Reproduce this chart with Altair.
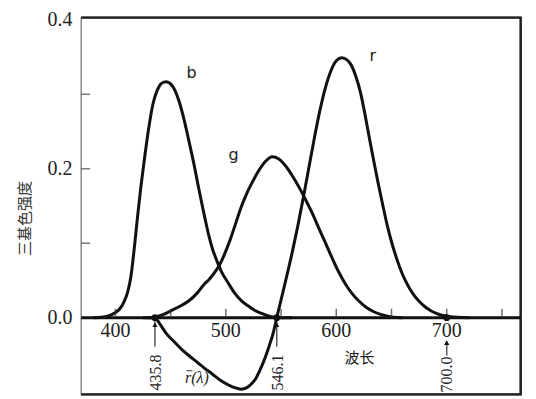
import altair as alt
import pandas as pd

# ---- data ----
lam_b = [380, 389, 395, 400, 404, 408, 411, 414, 417, 420, 423, 426, 430, 434, 438, 442, 446, 450, 454,
         458, 462, 466, 471, 475, 478, 481, 484, 488, 492, 496, 502, 508, 514, 520, 526, 532, 537, 542,
         547, 560]
val_b = [0.0, 0.001, 0.003, 0.007, 0.012, 0.022, 0.034, 0.055, 0.092, 0.135, 0.175, 0.210, 0.253, 0.287,
         0.306, 0.315, 0.317, 0.314, 0.305, 0.289, 0.267, 0.241, 0.207, 0.177, 0.155, 0.134, 0.114, 0.092,
         0.076, 0.062, 0.047, 0.033, 0.023, 0.016, 0.010, 0.006, 0.003, 0.001, 0.0, 0.0]

lam_g = [430, 436, 443, 450, 458, 466, 474, 481, 484, 489, 494, 499, 504, 509, 514, 519, 524, 530, 536,
         542, 548, 554, 560, 566, 572, 578, 584, 590, 596, 602, 608, 614, 620, 627, 634, 641, 650, 660]
val_g = [0.0, 0.001, 0.004, 0.009, 0.015, 0.022, 0.033, 0.046, 0.050, 0.059, 0.070, 0.086, 0.105, 0.127,
         0.149, 0.167, 0.182, 0.198, 0.210, 0.216, 0.213, 0.204, 0.191, 0.176, 0.159, 0.141, 0.121, 0.101,
         0.081, 0.062, 0.046, 0.033, 0.023, 0.014, 0.008, 0.004, 0.001, 0.0]

lam_r = [425, 435.8, 440, 446, 453, 461, 470, 480, 488, 495, 502, 508, 514, 519, 523, 527, 531, 535, 539,
         543, 546.1, 550, 555, 560, 565, 570, 575, 580, 585, 590, 595, 600, 605, 610, 614, 618, 622, 626,
         630, 634, 638, 642, 646, 650, 655, 660, 665, 670, 675, 680, 686, 692, 700, 710, 720]
val_r = [0.0, 0.0, -0.008, -0.021, -0.032, -0.044, -0.055, -0.067, -0.076, -0.084, -0.090, -0.094, -0.096,
         -0.094, -0.089, -0.082, -0.070, -0.056, -0.039, -0.020, 0.0, 0.024, 0.055, 0.087, 0.122, 0.160,
         0.200, 0.240, 0.277, 0.308, 0.331, 0.345, 0.349, 0.346, 0.338, 0.323, 0.302, 0.273, 0.241, 0.210,
         0.180, 0.152, 0.125, 0.102, 0.078, 0.058, 0.043, 0.031, 0.022, 0.015, 0.009, 0.005, 0.002, 0.0005, 0.0]

x_ticks = [400, 450, 500, 550, 600, 650, 700, 750]
x_labels = [400, 500, 600, 700]
y_ticks = [0.1, 0.2, 0.3]
y_labels = [0.0, 0.2, 0.4]

mark_lams = [435.8, 546.1, 700.0]
mark_texts = ["435.8", "546.1", "700.0"]

# box drawn around the plot, and the (slightly larger) scale domains
box_x = [369, 767]
box_y = [-0.103, 0.403]
x_domain = [366, 770]
y_domain = [-0.106, 0.406]

curves = pd.concat([
    pd.DataFrame({"lam": lam_b, "val": val_b, "series": "b"}),
    pd.DataFrame({"lam": lam_g, "val": val_g, "series": "g"}),
    pd.DataFrame({"lam": lam_r, "val": val_r, "series": "r"}),
])

frame_dark = pd.DataFrame({"lam": [box_x[0], box_x[1], box_x[1], box_x[0]],
                           "val": [box_y[1], box_y[1], box_y[0], box_y[0]],
                           "o": [0, 1, 2, 3]})
frame_left = pd.DataFrame({"lam": [box_x[0], box_x[0]], "val": [box_y[0], box_y[1]], "o": [0, 1]})

xscale = alt.Scale(domain=x_domain, nice=False, zero=False)
yscale = alt.Scale(domain=y_domain, nice=False, zero=False)
yax = alt.Axis(values=y_labels, format=".1f", ticks=False, domain=False, grid=False,
               labelFont="Liberation Serif", labelFontSize=20, labelColor="#222", labelPadding=6,
               title="三基色强度", titleFont="Noto Sans CJK SC", titleFontSize=15,
               titleFontWeight="normal", titleColor="#333", titleX=-53, titleY=203,
               titleAngle=270, titleAlign="center", titleBaseline="middle")


def X(f):
    return alt.X(f, scale=xscale, axis=None)


def Xd(v):
    return alt.X(datum=v, scale=xscale, axis=None)


def Y(f):
    return alt.Y(f, scale=yscale, axis=yax)


def Yd(v):
    return alt.Y(datum=v, scale=yscale, axis=yax)


one = pd.DataFrame({"k": [0]})
mid_x = (box_x[0] + box_x[1]) / 2
mid_y = (box_y[0] + box_y[1]) / 2

frame1 = alt.Chart(frame_dark).mark_line(color="#222", strokeWidth=2.4).encode(
    x=X("lam:Q"), y=Y("val:Q"), order="o:Q")
frame2 = alt.Chart(frame_left).mark_line(color="#777", strokeWidth=1.3).encode(
    x=X("lam:Q"), y=Y("val:Q"), order="o:Q")
edge_t = alt.Chart(one).mark_tick(orient="horizontal", size=441, thickness=2, color="#222").encode(
    x=Xd(mid_x), y=Yd(box_y[1]))
edge_b = alt.Chart(one).mark_tick(orient="horizontal", size=441, thickness=2, color="#222").encode(
    x=Xd(mid_x), y=Yd(box_y[0]))
edge_r = alt.Chart(one).mark_tick(orient="vertical", size=378, thickness=2, color="#222").encode(
    x=Xd(box_x[1]), y=Yd(mid_y))

lines = alt.Chart(curves).mark_line(color="#111", strokeWidth=3, interpolate="monotone").encode(
    x=X("lam:Q"), y=Y("val:Q"), detail="series:N")

zero = alt.Chart(pd.DataFrame({"lam": box_x, "val": [0.0, 0.0]})).mark_line(
    color="#111", strokeWidth=3).encode(x=X("lam:Q"), y=Y("val:Q"))

xt = alt.Chart(pd.DataFrame({"t": x_ticks})).mark_tick(
    orient="vertical", size=9, thickness=1.5, color="#333", yOffset=-4.5).encode(x=X("t:Q"), y=Yd(0))

yt = alt.Chart(pd.DataFrame({"t": y_ticks})).mark_tick(
    orient="horizontal", size=9, thickness=1.5, color="#444", xOffset=4.5).encode(
    y=Y("t:Q"), x=Xd(box_x[0]))

xl = alt.Chart(pd.DataFrame({"t": x_labels})).mark_text(
    font="Liberation Serif", fontSize=20, color="#222", baseline="top", align="center", yOffset=3).encode(
    x=X("t:Q"), y=Yd(0), text="t:Q")

mk = pd.DataFrame({"lam": mark_lams, "txt": mark_texts})
dots = alt.Chart(mk).mark_circle(size=45, color="#111", opacity=1).encode(x=X("lam:Q"), y=Yd(0))

near = alt.Chart(mk).transform_filter("datum.lam < 650")
far = alt.Chart(mk).transform_filter("datum.lam > 650")

stem1 = near.mark_tick(orient="vertical", size=26, thickness=1.5, color="#111", yOffset=16).encode(
    x=X("lam:Q"), y=Yd(0))
head1 = near.mark_point(shape="triangle-up", filled=True, size=28, color="#111", opacity=1, yOffset=7).encode(
    x=X("lam:Q"), y=Yd(0))
txt1 = near.mark_text(font="Liberation Serif", fontSize=16, color="#222", angle=270, align="right",
                      baseline="middle", yOffset=37, xOffset=1).encode(x=X("lam:Q"), y=Yd(0), text="txt:N")

stem2 = far.mark_tick(orient="vertical", size=14, thickness=1.5, color="#111", yOffset=31).encode(
    x=X("lam:Q"), y=Yd(0))
head2 = far.mark_point(shape="triangle-up", filled=True, size=28, color="#111", opacity=1, yOffset=25).encode(
    x=X("lam:Q"), y=Yd(0))
txt2 = far.mark_text(font="Liberation Serif", fontSize=16, color="#222", angle=270, align="right",
                     baseline="middle", yOffset=39).encode(x=X("lam:Q"), y=Yd(0), text="txt:N")


def note(txt, lam, val, font="DejaVu Sans", size=16, style="normal", align="center"):
    return alt.Chart(pd.DataFrame({"t": [txt]})).mark_text(
        font=font, fontSize=size, fontStyle=style, color="#222", align=align, baseline="middle").encode(
        x=Xd(lam), y=Yd(val), text="t:N")


labels = [
    note("b", 469, 0.328),
    note("g", 507, 0.219),
    note("r", 633, 0.351),
    note("波长", 621, -0.054, font="Noto Sans CJK SC", size=15),
    note("r(λ)", 463, -0.0805, font="Liberation Serif", size=16, style="italic", align="left"),
]
rbar = alt.Chart(one).mark_tick(orient="horizontal", size=6, thickness=1.3, color="#222",
                                xOffset=4.5, yOffset=-7).encode(x=Xd(463), y=Yd(-0.0805))

chart = alt.layer(frame1, frame2, edge_t, edge_b, edge_r, lines, zero, xt, yt, xl, dots,
                  stem1, head1, txt1, stem2, head2, txt2, *labels, rbar).properties(
    width=447, height=382,
    padding={"left": 70, "top": 7, "right": 4, "bottom": 0},
    autosize=alt.AutoSizeParams(type="none"),
    background="white",
).configure_view(stroke=None)

chart.save("out.html", embed_options={"renderer": "svg", "actions": False})
